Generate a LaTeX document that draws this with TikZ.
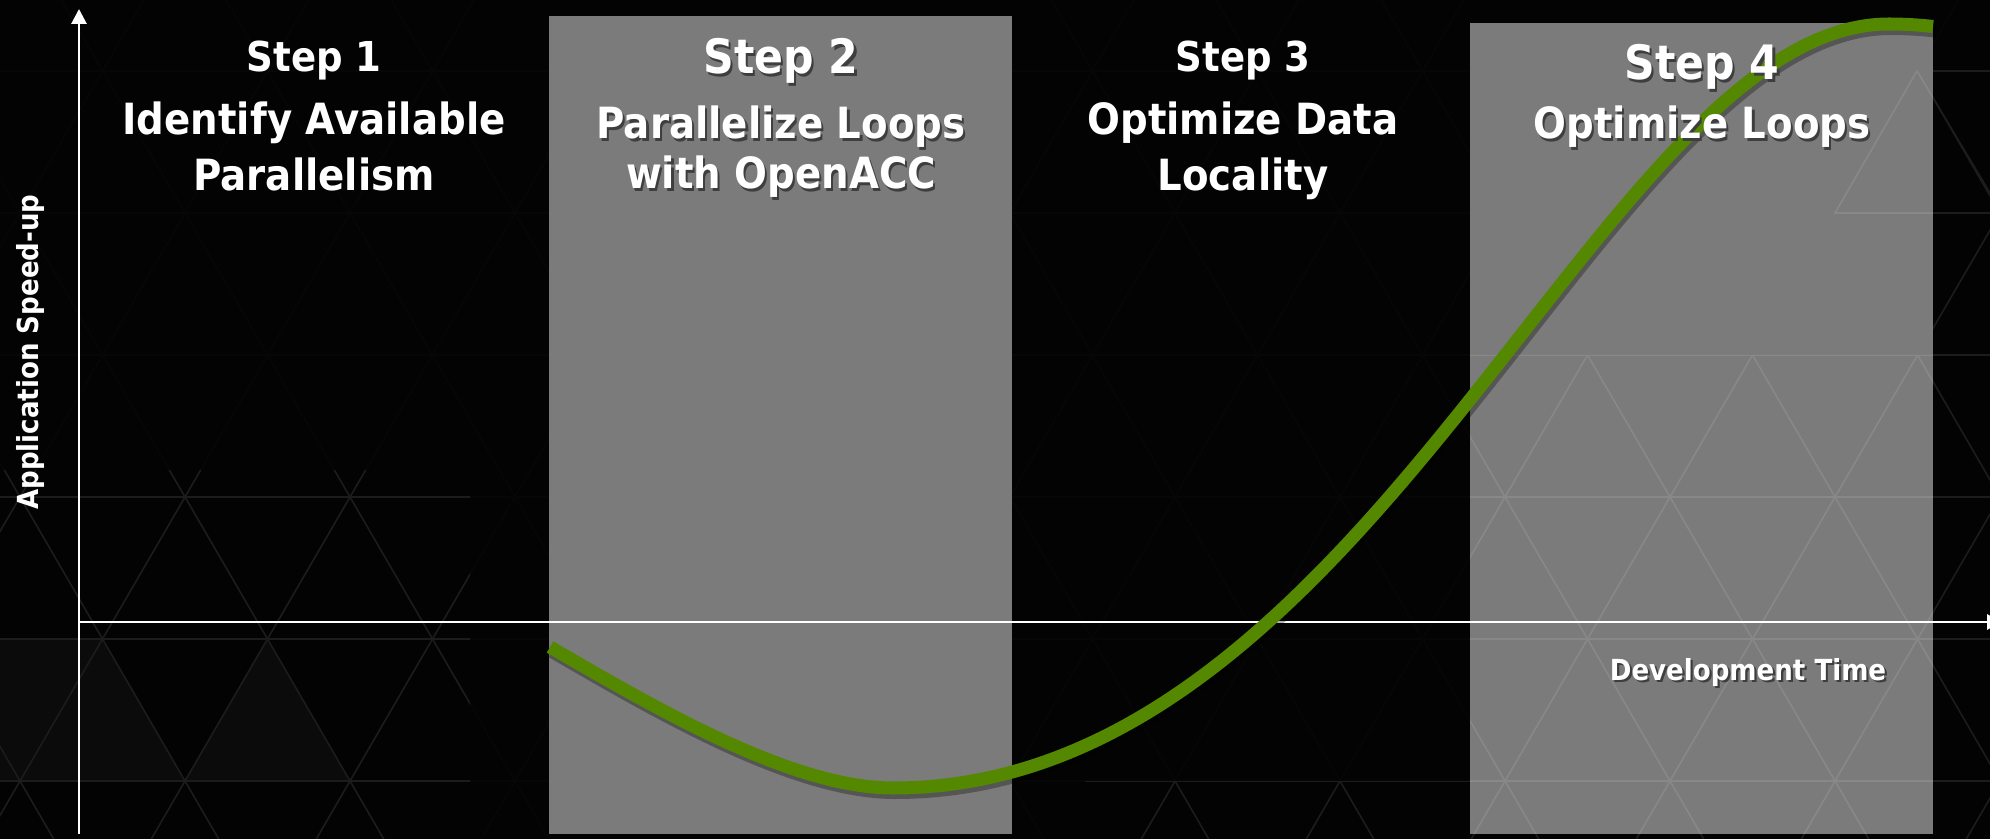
\documentclass[tikz,border=0pt]{standalone}
\usepackage{fontspec}
\setmainfont{DejaVu Sans}[FakeStretch=0.9]
\usetikzlibrary{arrows.meta}

\definecolor{bgc}{RGB}{3,3,3}
\definecolor{latc}{RGB}{28,28,28}
\definecolor{latfaintc}{RGB}{6,6,6}
\definecolor{latfillc}{RGB}{11,11,11}
\definecolor{curvec}{RGB}{84,136,0}
\definecolor{shadowc}{RGB}{62,62,62}

% text with a small dark drop shadow behind it
\newcommand{\shtext}[1]{\makebox[0pt][l]{\kern1.1pt\raisebox{-1.1pt}{\textcolor{shadowc}{#1}}}#1}

% triangular lattice of the backdrop (equilateral, side 165)
\newcommand{\latticelines}[1]{%
  \foreach \k in {-1,...,6} {\draw[#1] (-100,{71+142*\k}) -- (2100,{71+142*\k});}
  \foreach \n in {-5,...,16} {
    \draw[#1] ({20+165*\n-495},-71) -- ({20+165*\n+82.5},923);
    \draw[#1] ({20+165*\n+495},-71) -- ({20+165*\n-82.5},923);
  }%
}

% the speed-up curve
\newcommand{\speedpath}{(550,647) .. controls (660,711) and (793,788) .. (893,788)
  .. controls (1375,788) and (1604,24) .. (1889,24)
  .. controls (1905,24) and (1920,25) .. (1933,26.5)}

\begin{document}
\begin{tikzpicture}[x=0.5pt,y=-0.5pt,
  latline/.style={draw=latc,line width=0.8pt},
  latfaint/.style={draw=latfaintc,line width=0.8pt},
  stepband/.style={fill=white,opacity=0.48},
  axis/.style={draw=white,line width=1.4pt},
  axisarrow/.style={-{Triangle[width=7.5pt,length=7.5pt]}},
  curveline/.style={draw=curvec,line width=6.5pt,line cap=butt},
  curveshadow/.style={draw=black,opacity=0.3,line width=7pt,line cap=butt},
  titlesmall/.style={text=white,anchor=base,inner sep=0pt,font=\bfseries\fontsize{20.6}{24}\selectfont},
  titlelarge/.style={text=white,anchor=base,inner sep=0pt,font=\bfseries\fontsize{23.7}{28}\selectfont},
  subline/.style={text=white,anchor=base,inner sep=0pt,font=\bfseries\fontsize{21.5}{26}\selectfont},
  axlabel/.style={text=white,anchor=base,inner sep=0pt,font=\bfseries\fontsize{14.5}{17}\selectfont}]

\useasboundingbox (0,0) rectangle (1990,839);
\fill[bgc] (0,0) rectangle (1990,839);

% backdrop lattice: barely visible on the dark columns
\begin{scope}
  \clip (0,0) rectangle (549,839) (1012,0) rectangle (1470,839) (1933,0) rectangle (1990,839);
  \latticelines{latfaint}
\end{scope}
\fill[latfillc] (18,781) -- (103,639) -- (184,781) -- cycle;
\fill[latfillc] (184,781) -- (267,639) -- (349,781) -- cycle;
\fill[latfillc] (0,639) -- (103,639) -- (18,781) -- (0,781) -- cycle;
% clearer lattice in the lower left, lower middle and on the right
\begin{scope}
  \clip (0,470) rectangle (470,839);
  \latticelines{latline}
\end{scope}
\begin{scope}
  \clip (1085,781) rectangle (1470,839);
  \latticelines{latline}
\end{scope}
\begin{scope}
  \clip (1470,355) rectangle (1990,839) (1933,60) rectangle (1990,839);
  \latticelines{latline}
\end{scope}
\draw[latline] (1917,71) -- (2002,213) -- (1835,213) -- cycle;

% translucent bands of steps 2 and 4
\fill[stepband] (549,16) rectangle (1012,834);
\fill[stepband] (1470,23) rectangle (1933,834);

% axes
\coordinate (origin) at (79,622);
\coordinate (ybase) at (79,834);
\coordinate (ytip) at (79,9);
\coordinate (xtip) at (2002,622);
\draw[axis,axisarrow] (ybase) -- (ytip);
\draw[axis,axisarrow] (origin) -- (xtip);

% speed-up curve with its shadow
\draw[curveshadow,shift={(2,4)}] \speedpath;
\draw[curveline] \speedpath;

% step captions
\node[titlesmall] (s1) at (314,72) {Step 1};
\node[subline] (s1a) at (314,135) {Identify Available};
\node[subline] (s1b) at (314,191) {Parallelism};

\node[titlelarge] (s2) at (781,74) {\shtext{Step 2}};
\node[subline] (s2a) at (781,139) {\shtext{Parallelize Loops}};
\node[subline] (s2b) at (781,189) {\shtext{with OpenACC}};

\node[titlesmall] (s3) at (1243,72) {Step 3};
\node[subline] (s3a) at (1243,135) {Optimize Data};
\node[subline] (s3b) at (1243,191) {Locality};

\node[titlelarge] (s4) at (1702,80) {\shtext{Step 4}};
\node[subline] (s4a) at (1702,139) {\shtext{Optimize Loops}};

% axis labels
\node[axlabel] (xlab) at (1748,680) {\shtext{Development Time}};
\node[axlabel,rotate=90] (ylab) at (38,352) {Application Speed-up};
\end{tikzpicture}
\end{document}
